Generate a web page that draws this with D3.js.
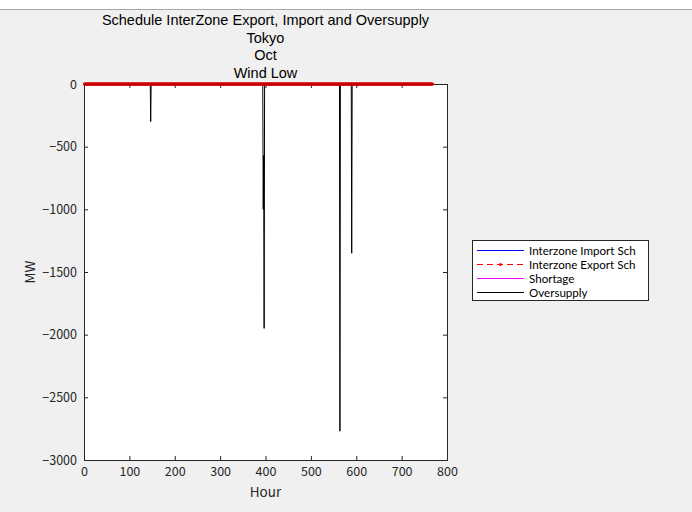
<!DOCTYPE html>
<html><head><meta charset="utf-8">
<script src="https://cdn.jsdelivr.net/npm/d3@7"></script>
<style>
html,body{margin:0;padding:0;background:#f0f0f0;}
svg{display:block;font-family:"Noto Sans CJK JP","Noto Sans",sans-serif;}
</style></head>
<body>
<script>
// ---- data ----
const titleLines = ["Schedule InterZone Export, Import and Oversupply", "Tokyo", "Oct", "Wind Low"];
const nHours = 768;
const hours = d3.range(1, nHours + 1);
// all-zero series
const importSch = hours.map(() => 0);
const exportSch = hours.map(() => 0);
const shortage = hours.map(() => 0);
// oversupply: zero except these hours
const oversupplyHours = [147, 395, 396, 397, 564, 590];
const oversupplyValues = [-300, -1000, -570, -1950, -2770, -1350];
const xTicks = [0, 100, 200, 300, 400, 500, 600, 700, 800];
const yTicks = [0, -500, -1000, -1500, -2000, -2500, -3000];
const legendLabels = ["Interzone Import Sch", "Interzone Export Sch", "Shortage", "Oversupply"];

const oversupply = hours.map(h => {
  const i = oversupplyHours.indexOf(h);
  return i >= 0 ? oversupplyValues[i] : 0;
});

const W = 692, H = 512;
const L = 84, T = 84, R = 447, B = 460;
const svg = d3.select("body").append("svg").attr("width", W).attr("height", H);
svg.append("rect").attr("width", W).attr("height", H).attr("fill", "#f0f0f0");
svg.append("rect").attr("width", W).attr("height", 9).attr("fill", "#ffffff");
svg.append("line").attr("x1", 0).attr("x2", W).attr("y1", 9.5).attr("y2", 9.5).attr("stroke", "#a8a8a8");

const x = d3.scaleLinear().domain([0, 800]).range([L, R]);
const y = d3.scaleLinear().domain([-3000, 0]).range([B, T]);

svg.append("rect").attr("x", L).attr("y", T).attr("width", R - L).attr("height", B - T).attr("fill", "#fff");

const fmt = d3.format("d");
// axes
const gx = svg.append("g").attr("transform", `translate(0,${B})`)
  .call(d3.axisBottom(x).tickValues(xTicks).tickSize(-4).tickPadding(7).tickFormat(fmt));
const gxt = svg.append("g").attr("transform", `translate(0,${T})`)
  .call(d3.axisTop(x).tickValues(xTicks).tickSize(-4).tickFormat(""));
const gy = svg.append("g").attr("transform", `translate(${L},0)`)
  .call(d3.axisLeft(y).tickValues(yTicks).tickSize(-4).tickPadding(7).tickFormat(d3.format("d")));
const gyr = svg.append("g").attr("transform", `translate(${R},0)`)
  .call(d3.axisRight(y).tickValues(yTicks).tickSize(-4).tickFormat(""));
[gx, gxt, gy, gyr].forEach(g => {
  g.select(".domain").attr("stroke", "#262626");
  g.selectAll(".tick line").attr("stroke", "#262626");
  g.selectAll(".tick text").attr("fill", "#262626").attr("font-size", 12.5)
    .attr("font-family", '"Noto Sans CJK JP","Noto Sans",sans-serif');
});
gy.selectAll(".tick text").text(d => d < 0 ? "\u2212" + Math.abs(d) : d);

const line = d3.line().x((d, i) => x(hours[i])).y(d => y(d));
const plot = svg.append("g");
plot.append("path").datum(importSch).attr("d", line).attr("fill", "none").attr("stroke", "#0000ff").attr("stroke-width", 1);
plot.append("path").datum(oversupply).attr("d", line).attr("fill", "none").attr("stroke", "#000").attr("stroke-width", 1);
plot.append("path").datum(shortage).attr("d", line).attr("fill", "none").attr("stroke", "#ff00ff").attr("stroke-width", 1);
plot.append("path").datum(exportSch).attr("d", line).attr("fill", "none").attr("stroke", "#e00000")
  .attr("stroke-width", 1).attr("stroke-dasharray", "6,4");
plot.append("g").selectAll("circle").data(exportSch).join("circle")
  .attr("cx", (d, i) => x(hours[i])).attr("cy", d => y(d)).attr("r", 1.5).attr("fill", "#cc0000");

// titles
const tg = svg.append("g").attr("fill", "#000").attr("font-size", 14.5).attr("text-anchor", "middle")
  .attr("font-family", "'Liberation Sans', Arial, sans-serif");
titleLines.forEach((t, i) => {
  tg.append("text").attr("x", (L + R) / 2).attr("y", 25 + i * 17.7).text(t);
});
svg.append("text").attr("x", (L + R) / 2).attr("y", 497).attr("text-anchor", "middle")
  .attr("font-size", 13.5).attr("fill", "#262626").text("Hour");
svg.append("text").attr("transform", `translate(35,${(T + B) / 2}) rotate(-90)`).attr("text-anchor", "middle")
  .attr("font-size", 13.5).attr("fill", "#262626").text("MW");

// legend
const lg = svg.append("g");
lg.append("rect").attr("x", 472.5).attr("y", 240.5).attr("width", 176).attr("height", 60)
  .attr("fill", "#fff").attr("stroke", "#262626").attr("stroke-width", 1);
const colors = ["#0000ff", "#ff0000", "#ff00ff", "#000000"];
legendLabels.forEach((lab, i) => {
  const yy = 250.5 + i * 14;
  const l = lg.append("line").attr("x1", 477).attr("x2", 524).attr("y1", yy).attr("y2", yy)
    .attr("stroke", colors[i]).attr("stroke-width", 1);
  if (i === 1) {
    l.attr("stroke-dasharray", "6,4");
    lg.append("circle").attr("cx", 500.5).attr("cy", yy).attr("r", 1.5).attr("fill", "#ff0000");
  }
  lg.append("text").attr("x", 529).attr("y", yy + 4).attr("font-size", 11.6)
    .attr("font-family", "Lato, 'Noto Sans', sans-serif").attr("fill", "#000").text(lab);
});
</script>
</body></html>
